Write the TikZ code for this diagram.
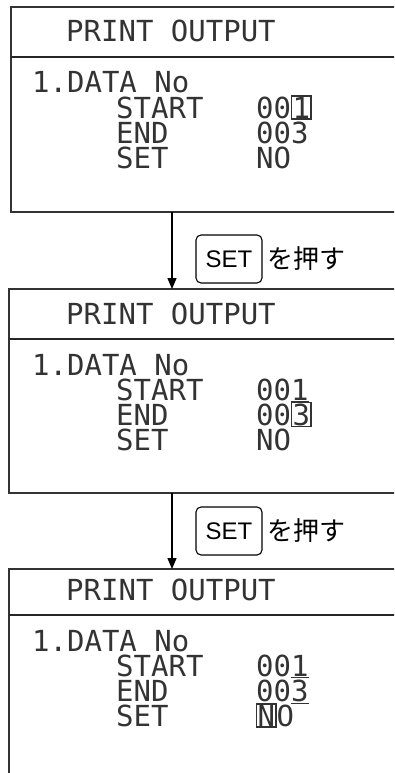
\documentclass[tikz,border=0pt]{standalone}
\usepackage{fontspec}
\setmonofont{DejaVu Sans Mono}
\newfontfamily\keyfont{Liberation Sans}
\newfontfamily\cjk{Noto Sans CJK JP}
\usetikzlibrary{arrows.meta,positioning}
\newcommand\curbox[1]{{\setlength{\fboxsep}{0.3pt}\setlength{\fboxrule}{1.2pt}\fbox{#1}}}

\begin{document}
\begin{tikzpicture}[x=1pt,y=-1pt]
        \tikzset{lcd/.style={font=\ttfamily\fontsize{29}{29}\selectfont,text=black!80,inner sep=0pt,
                anchor=base west,text height=21pt,text depth=1pt},
            frame/.style={line width=1.3pt,draw=black!80},
            rule/.style={line width=2pt,draw=black!85},
            keycap/.style={draw,line width=1.1pt,rounded corners=5pt,minimum width=66pt,minimum height=48pt,
                font=\keyfont\fontsize{24}{24}\selectfont,inner sep=0pt},
            push/.style={font=\cjk\fontsize{26}{26}\selectfont,inner sep=0pt},
            flow/.style={line width=1.3pt,-{Triangle[length=11pt,width=9pt]}}}
        \useasboundingbox (0,0) rectangle (394,773);
        \clip (0,0) rectangle (394,773);
        % the three screens
        \foreach \k/\ya/\yb/\yc/\xl/\sv/\ev/\tv in {
                1/7/212/7/11/{00\curbox{1}}/{003}/{NO},
                2/289/493/289/9/{00\underline{1}}/{00\curbox{3}}/{NO},
                3/569/800/565/9/{00\underline{1}}/{00\underline{3}}/{\curbox{N}O}}{
            \draw[frame] (400,\ya) -- (\xl,\ya) -- (\xl,\yb) -- (400,\yb);
            \draw[rule] (\xl,\yc+50) -- (400,\yc+50);
            \coordinate (top\k) at (172,\ya);
            \coordinate (bot\k) at (172,\yb);
            \node[lcd] (title\k) at (66,\yc+35) {PRINT OUTPUT};
            \node[lcd] (data\k) at (32,\yc+86) {1.DATA No};
            \node[lcd] (start\k) at (116,\yc+111) {START};
            \node[lcd] (end\k) at (116,\yc+136) {END};
            \node[lcd] (set\k) at (116,\yc+161) {SET};
            \node[lcd] (sval\k) at (256,\yc+111) {\sv};
            \node[lcd] (eval\k) at (256,\yc+136) {\ev};
            \node[lcd] (tval\k) at (256,\yc+161) {\tv};
        }
        % key presses
        \node[keycap] (key1) at (229,259) {SET};
        \node[push,right=5pt of key1] (push1) {を押す};
        \node[keycap] (key2) at (229,531) {SET};
        \node[push,right=5pt of key2] (push2) {を押す};
        \draw[flow] (bot1) -- (top2);
        \draw[flow] (bot2) -- (top3);
    \end{tikzpicture}
\end{document}
